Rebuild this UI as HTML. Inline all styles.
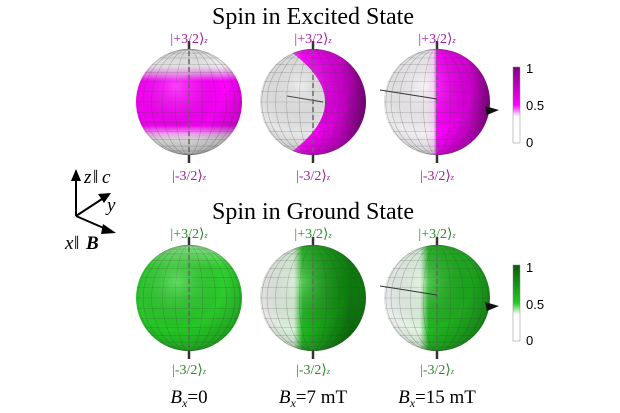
<!DOCTYPE html>
<html><head><meta charset="utf-8"><style>
html,body{margin:0;padding:0;background:#fff;width:620px;height:413px;overflow:hidden}
svg{display:block}
.t{font-family:"Liberation Serif",serif}
</style></head><body>
<svg id="s" width="620" height="413" viewBox="0 0 620 413" xmlns="http://www.w3.org/2000/svg">
<defs>
<radialGradient id="shade" cx="0.38" cy="0.35" r="0.75">
<stop offset="0" stop-color="#fff" stop-opacity="0.25"/>
<stop offset="0.6" stop-color="#000" stop-opacity="0"/>
<stop offset="1" stop-color="#000" stop-opacity="0.22"/>
</radialGradient>
<linearGradient id="band" x1="0" y1="0" x2="0" y2="1">
<stop offset="0" stop-color="#ddd"/><stop offset="0.16" stop-color="#eee"/>
<stop offset="0.24" stop-color="#f080f0"/><stop offset="0.3" stop-color="#ff00ff"/>
<stop offset="0.72" stop-color="#f000f0"/><stop offset="0.8" stop-color="#f0a0f0"/>
<stop offset="0.85" stop-color="#ddd"/><stop offset="1" stop-color="#ccc"/>
</linearGradient>
<linearGradient id="m2" gradientUnits="userSpaceOnUse" x1="287" y1="0" x2="366" y2="0">
<stop offset="0" stop-color="#f070f0"/><stop offset="0.2" stop-color="#ff00ff"/><stop offset="0.65" stop-color="#d000d0"/><stop offset="1" stop-color="#800080"/>
</linearGradient>
<linearGradient id="m3" x1="0" y1="0" x2="1" y2="0">
<stop offset="0" stop-color="#eaeaea"/><stop offset="0.4" stop-color="#f4f0f4"/><stop offset="0.47" stop-color="#fad8fa"/>
<stop offset="0.5" stop-color="#ff00ff"/><stop offset="0.8" stop-color="#d000d0"/><stop offset="1" stop-color="#8a008a"/>
</linearGradient>
<linearGradient id="g1" x1="0" y1="0" x2="0" y2="1">
<stop offset="0" stop-color="#8ee88e"/><stop offset="0.2" stop-color="#30d030"/><stop offset="1" stop-color="#22c022"/>
</linearGradient>
<linearGradient id="g2" x1="0" y1="0" x2="1" y2="0">
<stop offset="0" stop-color="#e8e8e8"/><stop offset="0.32" stop-color="#d8f0d8"/>
<stop offset="0.4" stop-color="#22b822"/><stop offset="0.85" stop-color="#0c7a0c"/><stop offset="1" stop-color="#118811"/>
</linearGradient>
<linearGradient id="g3" x1="0" y1="0" x2="1" y2="0">
<stop offset="0" stop-color="#eee"/><stop offset="0.34" stop-color="#e0f4e0"/>
<stop offset="0.42" stop-color="#22b822"/><stop offset="1" stop-color="#1a9a1a"/>
</linearGradient>
<linearGradient id="cbm" x1="0" y1="1" x2="0" y2="0">
<stop offset="0" stop-color="#fff"/><stop offset="0.35" stop-color="#fff"/><stop offset="0.5" stop-color="#ff00ff"/><stop offset="1" stop-color="#800080"/>
</linearGradient>
<linearGradient id="cbg" x1="0" y1="1" x2="0" y2="0">
<stop offset="0" stop-color="#fff"/><stop offset="0.35" stop-color="#fff"/><stop offset="0.5" stop-color="#22cc22"/><stop offset="1" stop-color="#0a5a0a"/>
</linearGradient>
</defs>
<g id="content"></g>
<text class="t" x="313" y="24" font-size="24" text-anchor="middle">Spin in Excited State</text>
<text class="t" x="313" y="219" font-size="24" text-anchor="middle">Spin in Ground State</text>
<g class="t" font-size="14" fill="#a020a0" text-anchor="middle">
<text x="189" y="43">|+3/2⟩<tspan font-size="8" font-style="italic">z</tspan></text>
<text x="313" y="43">|+3/2⟩<tspan font-size="8" font-style="italic">z</tspan></text>
<text x="437" y="43">|+3/2⟩<tspan font-size="8" font-style="italic">z</tspan></text>
<text x="189" y="180">|-3/2⟩<tspan font-size="8" font-style="italic">z</tspan></text>
<text x="313" y="180">|-3/2⟩<tspan font-size="8" font-style="italic">z</tspan></text>
<text x="437" y="180">|-3/2⟩<tspan font-size="8" font-style="italic">z</tspan></text>
</g>
<g class="t" font-size="14" fill="#2a8a2a" text-anchor="middle">
<text x="189" y="238">|+3/2⟩<tspan font-size="8" font-style="italic">z</tspan></text>
<text x="313" y="238">|+3/2⟩<tspan font-size="8" font-style="italic">z</tspan></text>
<text x="437" y="238">|+3/2⟩<tspan font-size="8" font-style="italic">z</tspan></text>
<text x="189" y="374">|-3/2⟩<tspan font-size="8" font-style="italic">z</tspan></text>
<text x="313" y="374">|-3/2⟩<tspan font-size="8" font-style="italic">z</tspan></text>
<text x="437" y="374">|-3/2⟩<tspan font-size="8" font-style="italic">z</tspan></text>
</g>
<g class="t" font-size="19" text-anchor="middle">
<text x="189" y="403"><tspan font-style="italic">B</tspan><tspan font-size="12" dy="4" font-style="italic">x</tspan><tspan dy="-4">=0</tspan></text>
<text x="313" y="403"><tspan font-style="italic">B</tspan><tspan font-size="12" dy="4" font-style="italic">x</tspan><tspan dy="-4">=7 mT</tspan></text>
<text x="437" y="403"><tspan font-style="italic">B</tspan><tspan font-size="12" dy="4" font-style="italic">x</tspan><tspan dy="-4">=15 mT</tspan></text>
</g>
<rect x="513" y="67" width="7" height="76" fill="url(#cbm)" stroke="#888" stroke-width="0.5"/>
<rect x="513" y="265" width="7" height="76" fill="url(#cbg)" stroke="#888" stroke-width="0.5"/>
<g font-family="Liberation Sans,sans-serif" font-size="13">
<text x="526" y="73">1</text><text x="526" y="110">0.5</text><text x="526" y="147">0</text>
<text x="526" y="272">1</text><text x="526" y="309">0.5</text><text x="526" y="345">0</text>
</g>
<g stroke="#000" stroke-width="2" fill="#000">
<line x1="76" y1="216" x2="76" y2="178"/><polygon points="71,181 76,169 81,181" stroke="none"/>
<line x1="76" y1="216" x2="102" y2="199"/><polygon points="98,194 111,193 104,203" stroke="none"/>
<line x1="76" y1="216" x2="106" y2="229"/><polygon points="103,224 116,233 101,234" stroke="none"/>
</g>
<g class="t" font-size="19" font-style="italic">
<text x="84" y="183">z</text><text x="93" y="183" font-style="normal">‖</text><text x="102" y="183">c</text>
<text x="107" y="211">y</text>
<text x="65" y="249">x</text><text x="74" y="249" font-style="normal">‖</text><text x="86" y="249" font-weight="bold">B</text>
</g>
</svg>
<script>
var NS="http://www.w3.org/2000/svg",C=document.getElementById("content");
function el(t,a,p){var e=document.createElementNS(NS,t);for(var k in a)e.setAttribute(k,a[k]);(p||C).appendChild(e);return e;}
var R=53,id=0;
function sphere(cx,cy,fill,extra,arrow){
 id++;var cp=el("clipPath",{id:"c"+id});el("circle",{cx:cx,cy:cy,r:R},cp);
 var g=el("g",{"clip-path":"url(#c"+id+")"});
 el("rect",{x:cx-R,y:cy-R,width:2*R,height:2*R,fill:"#e6e6e6"},g);
 if(fill)el("rect",{x:cx-R,y:cy-R,width:2*R,height:2*R,fill:fill},g);
 if(extra)extra(g,cx,cy);
 for(var k=1;k<6;k++){var rx=R*Math.sin(k*Math.PI/12);
  el("ellipse",{cx:cx,cy:cy,rx:rx,ry:R,fill:"none",stroke:"#444","stroke-opacity":0.35,"stroke-width":0.6},g);}
 el("line",{x1:cx,y1:cy-R,x2:cx,y2:cy+R,stroke:"#444","stroke-opacity":0.35,"stroke-width":0.6},g);
 for(var k=-7;k<=7;k++){var y=cy+R*Math.sin(k*Math.PI/16),w=R*Math.cos(k*Math.PI/16);
  el("line",{x1:cx-w,y1:y,x2:cx+w,y2:y,stroke:"#444","stroke-opacity":0.3,"stroke-width":0.6},g);}
 el("rect",{x:cx-R,y:cy-R,width:2*R,height:2*R,fill:"url(#shade)"},g);
 el("line",{x1:cx,y1:cy-R+2,x2:cx,y2:cy+R-2,stroke:"#666","stroke-width":2,"stroke-dasharray":"5,3","stroke-opacity":0.7},g);
 el("line",{x1:cx,y1:cy-R-8,x2:cx,y2:cy-R,stroke:"#333","stroke-width":2.5});
 el("line",{x1:cx,y1:cy+R,x2:cx,y2:cy+R+8,stroke:"#333","stroke-width":2.5});
 if(arrow){el("line",{x1:cx-57,y1:cy-12,x2:cx,y2:cy-3,stroke:"#333","stroke-width":1});
  el("polygon",{points:(cx+48)+","+(cy+4)+" "+(cx+62)+","+(cy+8)+" "+(cx+50)+","+(cy+13),fill:"#111"});}
}
sphere(189,102,"url(#band)");
sphere(313,102,null,function(g,cx,cy){el("path",{d:"M"+(cx-26)+","+(cy-R)+" Q"+(cx+50)+","+cy+" "+(cx-26)+","+(cy+R)+" L"+(cx+R)+","+(cy+R)+" L"+(cx+R)+","+(cy-R)+"Z",fill:"url(#m2)"},g);
 el("line",{x1:cx-26,y1:cy-6,x2:cx+10,y2:cy,stroke:"#333","stroke-width":1},g);});
sphere(437,102,"url(#m3)",null,true);
sphere(189,298,"url(#g1)");
sphere(313,298,"url(#g2)");
sphere(437,298,"url(#g3)",null,true);
</script>
</body></html>
